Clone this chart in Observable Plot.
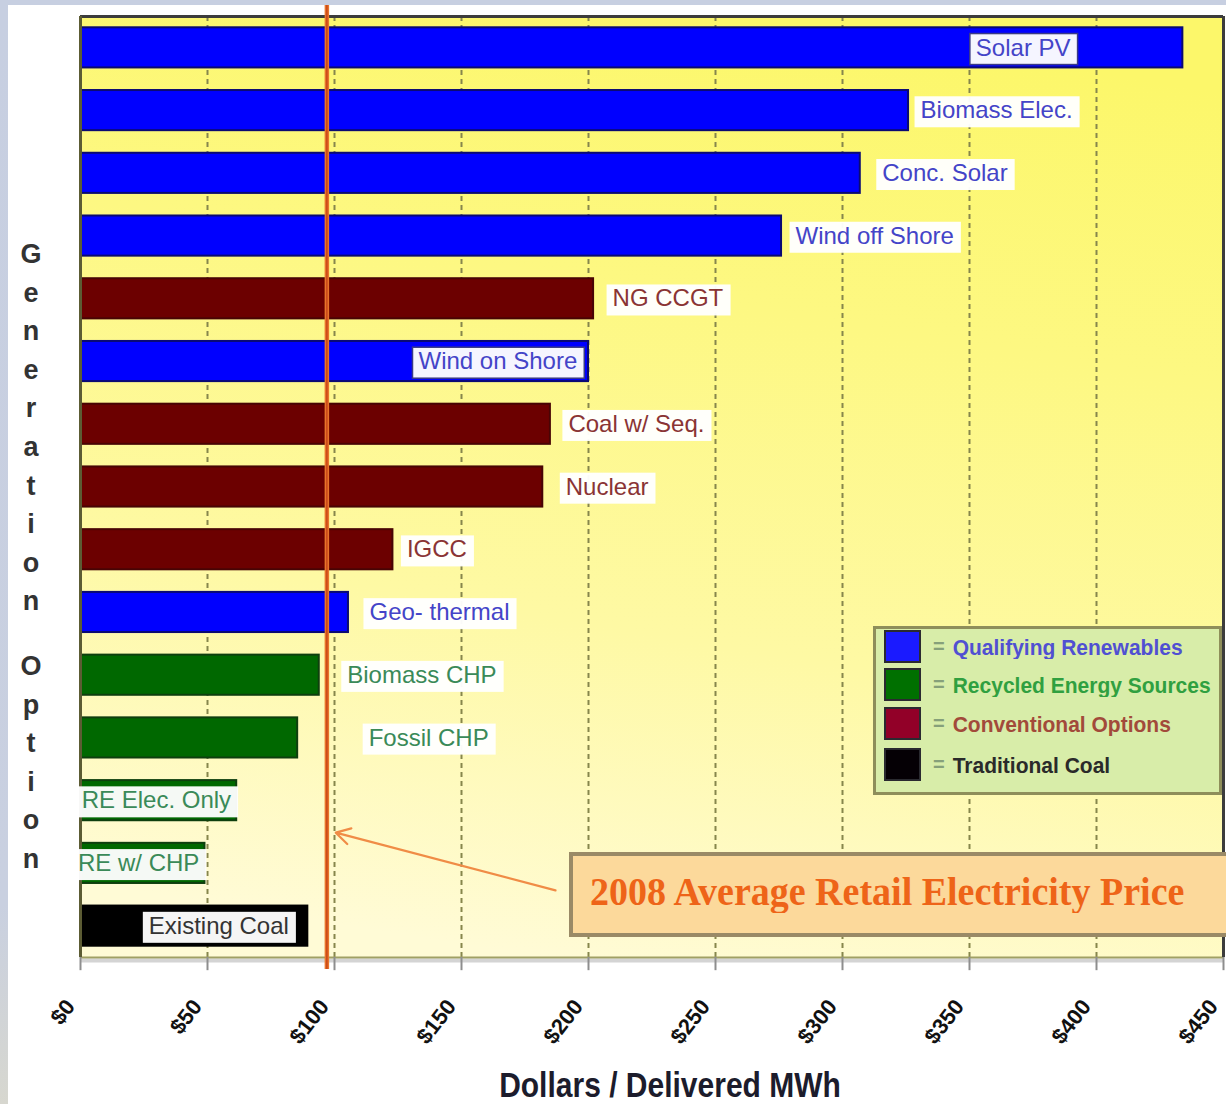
<!DOCTYPE html>
<html>
<head>
<meta charset="utf-8">
<script src="https://cdn.jsdelivr.net/npm/d3@7"></script>
<script src="https://cdn.jsdelivr.net/npm/@observablehq/plot@0.6"></script>
<style>
  html, body { margin: 0; padding: 0; }
  body { width: 1226px; height: 1104px; overflow: hidden; }
  #wrap { position: relative; width: 1226px; height: 1104px; overflow: hidden;
          background: linear-gradient(to bottom, #c7cfe1 0%, #c9d0e0 82%, #d7d7cf 100%); }
  #panel { position: absolute; left: 8px; top: 5px; right: 0; bottom: 0; background: #ffffff; }
  #chart { position: absolute; left: 0; top: 0; }
  #ytitle { position: absolute; left: 14px; top: 235px; width: 34px;
            font-family: "Liberation Sans", Arial, sans-serif; font-weight: bold; font-size: 27px; color: #333; }
  #ytitle div { height: 38.6px; line-height: 38.6px; text-align: center; }
  #ytitle div.sp { height: 26px; }
  #xtitle { position: absolute; left: 670px; top: 1068px; white-space: nowrap;
            font-family: "Liberation Sans", Arial, sans-serif; font-weight: bold; font-size: 30px; line-height: 30px;
            color: #1c1c2c; transform: translateX(-50%) scaleY(1.15); transform-origin: 50% 0; }
  #legend { position: absolute; left: 873px; top: 626px; width: 349px; height: 169px; box-sizing: border-box;
            border: 3px solid #8e8e5a; background: #d8eda9; font-family: "Liberation Sans", Arial, sans-serif; }
  #legend .row { position: absolute; left: 8px; height: 33px; display: flex; align-items: center; white-space: nowrap; }
  #legend .sw { width: 33px; height: 29px; border: 2px solid #2a2a30; }
  #legend .eq { margin-left: 12px; font-size: 20px; font-weight: bold; color: #86a07a; }
  #legend .lb { margin-left: 8px; font-size: 21px; font-weight: bold; display: inline-block; transform: scaleY(1.08); }
  #note { position: absolute; left: 569px; top: 852px; width: 700px; height: 85px; box-sizing: border-box;
          border: 4px solid #9a8a66; background: #fcd99b; }
  #note span { position: absolute; left: 17px; top: 15px; white-space: nowrap;
               font-family: "Liberation Serif", "Times New Roman", serif; font-weight: bold; font-size: 38px; line-height: 38px;
               color: #ee6418; transform: scaleY(1.05); transform-origin: 0 0; }
</style>
</head>
<body>
<div id="wrap">
  <div id="panel"></div>
  <div id="chart"></div>
  <div id="ytitle"></div>
  <div id="xtitle"></div>
  <div id="legend"></div>
  <div id="note"><span></span></div>
</div>
<script>
// ---------------- data ----------------
const names = ["Solar PV", "Biomass Elec.", "Conc. Solar", "Wind off Shore", "NG CCGT", "Wind on Shore",
               "Coal w/ Seq.", "Nuclear", "IGCC", "Geo- thermal", "Biomass CHP", "Fossil CHP",
               "RE Elec. Only", "RE w/ CHP", "Existing Coal"];
const costs = [434, 326, 307, 276, 202, 200, 185, 182, 123, 105.5, 94, 85.5, 61.5, 49, 89.5];
const groups = ["renewable", "renewable", "renewable", "renewable", "conventional", "renewable",
                "conventional", "conventional", "conventional", "renewable", "recycled", "recycled",
                "recycled", "recycled", "coal"];
const groupKeys = ["renewable", "recycled", "conventional", "coal"];
const groupLabels = ["Qualifying Renewables", "Recycled Energy Sources", "Conventional Options", "Traditional Coal"];
const dollarTicks = [0, 50, 100, 150, 200, 250, 300, 350, 400, 450];
const retailPrice = 97;
const priceNote = "2008 Average Retail Electricity Price";
const xTitle = "Dollars / Delivered MWh";
const yTitle = "Generation Option";
// arrow from the note box to the price line (x in $, y in row units)
const noteArrow = [{x1: 187, y1: 13.43, x2: 100.5, y2: 12.51}];

// ---------------- styling / layout ----------------
const palette = {
  renewable:    {fill: "#0000ff", stroke: "#0a0a72", text: "#4444c8", swatch: "#1a1aff"},
  recycled:     {fill: "#006800", stroke: "#0e3f0e", text: "#3a8a58", swatch: "#007000"},
  conventional: {fill: "#6c0000", stroke: "#480404", text: "#8a3434", swatch: "#920028"},
  coal:         {fill: "#000000", stroke: "#000000", text: "#333333", swatch: "#050005"}
};
const legendText = {renewable: "#5050d2", recycled: "#30a040", conventional: "#a24a3a", coal: "#2a2a2a"};
const labelDx = [-207, 12, 22, 14, 19, -170, 18, 23, 14, 21, 28, 71, -155, -127, -159];
const framedLabels = new Set(["Solar PV", "Wind on Shore"]);

const rows = names.map((name, i) => ({i, name, cost: costs[i], group: groups[i]}));

const bgDefs = () => {
  const d = document.createElementNS("http://www.w3.org/2000/svg", "defs");
  d.innerHTML = `<linearGradient id="plotBg" x1="0.4" y1="1" x2="0.6" y2="0">
      <stop offset="0" stop-color="#fffbd6"/>
      <stop offset="0.35" stop-color="#fef9a4"/>
      <stop offset="0.7" stop-color="#fdf882"/>
      <stop offset="1" stop-color="#fcf76a"/>
    </linearGradient>`;
  return d;
};

const labelMarks = rows.map(d => Plot.text([d], {
  x: "cost", y: "i", text: "name", dx: labelDx[d.i], textAnchor: "start",
  fill: palette[d.group].text, fontSize: 24
}));

const svg = Plot.plot({
  width: 1226, height: 1104,
  marginLeft: 80, marginRight: 3, marginTop: 16, marginBottom: 147,
  x: {domain: [0, 450], axis: null},
  y: {domain: [-0.5, 14.5], reverse: true, axis: null},
  color: {type: "identity"},
  style: {background: "transparent", fontFamily: "'Liberation Sans', Arial, sans-serif", overflow: "visible"},
  marks: [
    bgDefs,
    Plot.frame({fill: "url(#plotBg)", stroke: "none"}),
    Plot.ruleX(dollarTicks.filter(t => t > 0 && t < 450), {stroke: "#86864c", strokeWidth: 2, strokeDasharray: "5,4"}),
    Plot.rectX(rows, {x1: d => 0, x2: "cost", y1: d => d.i - 0.32, y2: d => d.i + 0.32,
      fill: d => palette[d.group].fill, stroke: d => palette[d.group].stroke, strokeWidth: 2}),
    // axes & frame borders
    Plot.ruleY([14.5], {stroke: "#d4d4d4", strokeWidth: 4, dy: 3}),
    Plot.ruleY([14.5], {stroke: "#a0a064", strokeWidth: 2}),
    Plot.ruleX(dollarTicks, {y1: d => 14.5, y2: d => 14.71, stroke: "#8e8e8e", strokeWidth: 2}),
    Plot.ruleY([-0.5], {stroke: "#3c3c3c", strokeWidth: 3}),
    Plot.ruleX([450], {stroke: "#3c3c3c", strokeWidth: 3}),
    Plot.ruleX([0], {stroke: "#5c5c34", strokeWidth: 3}),
    // retail price line and arrow
    Plot.ruleX([retailPrice], {stroke: "#e8742a", strokeWidth: 4.5, insetTop: -11, insetBottom: -12}),
    Plot.ruleX([retailPrice], {stroke: "#c8461a", strokeWidth: 1.5, insetTop: -11, insetBottom: -12}),
    Plot.arrow(noteArrow, {x1: "x1", y1: "y1", x2: "x2", y2: "y2", stroke: "#f08c46", strokeWidth: 2.2, headLength: 11}),
    // tick labels
    Plot.text(dollarTicks, {x: d => d, y: d => 14.5, text: d => "$" + d, rotate: -52, textAnchor: "end",
      dx: -10, dy: 45, fontSize: 22, fontWeight: "bold", fill: "#111111"}),
    ...labelMarks
  ]
});
document.getElementById("chart").append(svg);

// white boxes behind the bar labels
const nameSet = new Set(names);
svg.querySelectorAll("text").forEach(t => {
  if (!nameSet.has(t.textContent)) return;
  const b = t.getBBox();
  const r = document.createElementNS("http://www.w3.org/2000/svg", "rect");
  r.setAttribute("x", b.x - 6);
  r.setAttribute("y", b.y);
  r.setAttribute("width", b.width + 13);
  r.setAttribute("height", b.height + 4);
  if (t.getAttribute("transform")) r.setAttribute("transform", t.getAttribute("transform"));
  r.setAttribute("fill", "#ffffff");
  r.setAttribute("fill-opacity", "0.96");
  if (framedLabels.has(t.textContent)) {
    r.setAttribute("stroke", "#3a3a86");
    r.setAttribute("stroke-width", "1.5");
  } else {
    r.setAttribute("stroke", "none");
  }
  t.parentNode.insertBefore(r, t);
});

// y title: stacked upright letters
const yt = document.getElementById("ytitle");
for (const ch of yTitle) {
  const el = document.createElement("div");
  if (ch === " ") el.className = "sp"; else el.textContent = ch;
  yt.append(el);
}
document.getElementById("xtitle").textContent = xTitle;

// legend
const lg = document.getElementById("legend");
const legendTops = [1, 39, 78, 119];
groupKeys.forEach((k, i) => {
  const row = document.createElement("div");
  row.className = "row";
  row.style.top = legendTops[i] + "px";
  row.innerHTML = `<div class="sw" style="background:${palette[k].swatch}"></div><span class="eq">=</span><span class="lb" style="color:${legendText[k]}"></span>`;
  row.querySelector(".lb").textContent = groupLabels[i];
  lg.append(row);
});
document.querySelector("#note span").textContent = priceNote;
</script>
</body>
</html>
